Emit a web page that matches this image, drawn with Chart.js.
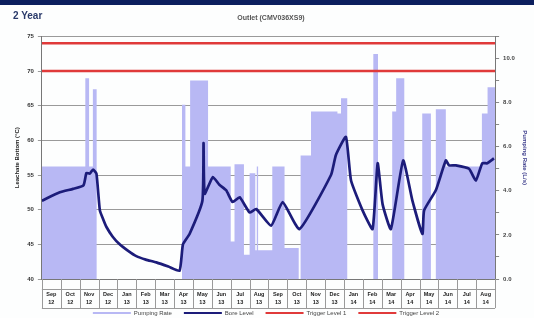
<!DOCTYPE html>
<html><head><meta charset="utf-8">
<script src="https://cdn.jsdelivr.net/npm/chart.js@4.4.0/dist/chart.umd.min.js"></script>
<style>
html,body{margin:0;padding:0;background:#fff;}
#wrap{position:relative;width:534px;height:318px;overflow:hidden;background:#fdfefe;}
#band{position:absolute;left:0;top:0;width:534px;height:5px;background:#0c1f5e;}
#tag{position:absolute;left:13px;top:10px;font:bold 10px "Liberation Sans",Arial,sans-serif;color:#2a3a6a;}
canvas{position:absolute;left:0;top:0;}
</style></head><body>
<div id="wrap"><canvas id="c" width="534" height="318"></canvas><div id="band"></div><div id="tag">2 Year</div></div>
<script>
const monthLabels = ['Sep','Oct','Nov','Dec','Jan','Feb','Mar','Apr','May','Jun','Jul','Aug','Sep','Oct','Nov','Dec','Jan','Feb','Mar','Apr','May','Jun','Jul','Aug'];
const yearLabels = ['12','12','12','12','13','13','13','13','13','13','13','13','13','13','13','13','14','14','14','14','14','14','14','14'];

const boreMonths = [0,0.95,1.65,2.2,2.36,2.54,2.71,2.89,3.07,3.25,3.42,3.75,4.12,4.55,5.0,5.5,6.06,6.7,7.29,7.47,7.82,8.5,8.56,8.62,9.05,9.4,9.76,10.1,10.47,11.0,11.35,12.14,12.75,13.64,15.31,15.57,16.1,16.37,16.98,17.51,17.78,18.04,18.48,19.13,19.62,20.15,20.24,20.86,21.39,21.56,21.92,22.62,22.98,23.32,23.59,23.94];
const boreLevels = [51.3,52.5,53.0,53.5,55.3,55.2,55.8,55.2,49.9,48.6,47.5,46.1,45.0,44.1,43.3,42.8,42.4,41.8,41.2,45.0,46.5,51.3,59.6,52.3,54.7,53.6,52.8,51.1,51.8,49.6,50.1,47.7,51.1,47.2,55.0,57.9,60.5,54.2,49.9,47.2,56.7,50.8,47.2,57.1,51.3,46.5,49.9,52.8,57.1,56.4,56.4,55.9,54.2,56.7,56.7,57.4];

const rateMonths = [0,2.3,2.5,2.7,2.9,7.42,7.6,7.85,8.8,10.0,10.2,10.7,11.0,11.3,11.38,11.45,12.2,12.85,13.6,13.7,14.25,15.65,15.84,16.17,17.55,17.8,18.55,18.76,19.19,20.14,20.6,20.86,21.39,23.3,23.6,24];
const rateValues = [5.1,9.1,5.1,8.6,0,7.9,5.1,9.0,5.1,1.7,5.2,1.1,4.8,1.3,5.1,1.3,5.1,1.4,0,5.6,7.6,7.5,8.2,0,10.2,0,7.6,9.1,0,7.5,0,7.7,5.1,7.5,8.7,8.7];

const trigger1 = 74;
const trigger2 = 70;
const xRange = [0, 24];

const seriesNames = ['Pumping Rate','Bore Level','Trigger Level 1','Trigger Level 2'];
const seriesColors = ['#b8b8f4','#1c1c7a','#e03a3a','#e03a3a'];

const pts = (xs, ys) => xs.map((x, i) => ({x, y: ys[i]}));

const tableLines = {
  id: 'tableLines',
  afterDraw(chart) {
    const xs = chart.scales.x, ctx = chart.ctx;
    const top = xs.top, bot = xs.top + 29;
    ctx.save();
    ctx.strokeStyle = '#9a9a9a';
    ctx.lineWidth = 1;
    for (let i = 0; i <= 24; i++) {
      const px = Math.round(xs.getPixelForValue(i)) + 0.5;
      ctx.beginPath(); ctx.moveTo(px, top); ctx.lineTo(px, bot); ctx.stroke();
    }
    [top + 10.5, bot + 0.5].forEach(y => {
      ctx.beginPath(); ctx.moveTo(xs.left, y); ctx.lineTo(xs.right, y); ctx.stroke();
    });
    ctx.restore();
  }
};

new Chart(document.getElementById('c'), {
  type: 'line',
  data: {
    datasets: [
      {label: seriesNames[0], data: pts(rateMonths, rateValues), yAxisID: 'y1', stepped: true,
       fill: 'origin', backgroundColor: seriesColors[0], borderColor: seriesColors[0], borderWidth: 0, pointRadius: 0, order: 3},
      {label: seriesNames[1], data: pts(boreMonths, boreLevels), yAxisID: 'y', borderColor: seriesColors[1],
       borderWidth: 2.7, pointRadius: 0, tension: 0.15, fill: false, order: 0},
      {label: seriesNames[2], data: pts(xRange, [trigger1, trigger1]), yAxisID: 'y', borderColor: seriesColors[2],
       borderWidth: 2.5, pointRadius: 0, fill: false, order: 1},
      {label: seriesNames[3], data: pts(xRange, [trigger2, trigger2]), yAxisID: 'y', borderColor: seriesColors[3],
       borderWidth: 2.5, pointRadius: 0, fill: false, order: 1}
    ]
  },
  options: {
    responsive: false, animation: false, devicePixelRatio: 1,
    layout: {padding: {left: 12, right: 4, top: 6, bottom: -8}},
    plugins: {
      title: {display: true, text: 'Outlet (CMV036XS9)', color: '#555',
        font: {family: 'Liberation Sans', size: 7, weight: 'bold'}, padding: {top: 8, bottom: 14}},
      legend: {position: 'bottom',
        labels: {font: {family: 'Liberation Sans', size: 6}, color: '#444', boxWidth: 38, boxHeight: 2, padding: 2,
          sort: (a, b) => a.datasetIndex - b.datasetIndex,
          generateLabels(chart) {
            const items = Chart.defaults.plugins.legend.labels.generateLabels(chart);
            items.forEach(it => { const c = seriesColors[it.datasetIndex]; it.fillStyle = c; it.strokeStyle = c; it.lineWidth = 0; it.text = it.text + '      '; });
            return items;
          }}},
      tooltip: {enabled: false}
    },
    scales: {
      x: {type: 'linear', min: 0, max: 24, position: 'bottom',
        afterBuildTicks: s => { s.ticks = Array.from({length: 24}, (_, i) => ({value: i + 0.5})); },
        afterFit: s => { s.height = 29; },
        ticks: {autoSkip: false, maxRotation: 0, padding: 11,
          font: {family: 'Liberation Sans', size: 5.5, weight: 'bold', lineHeight: 1.5}, color: '#222',
          callback: (v, i) => [monthLabels[i], yearLabels[i]]},
        grid: {drawOnChartArea: false, drawTicks: false},
        border: {color: '#777'}},
      y: {position: 'left', min: 40, max: 75,
        ticks: {stepSize: 5, font: {family: 'Liberation Sans', size: 6, weight: 'bold'}, color: '#333', padding: 4},
        grid: {color: '#9a9a9a', tickLength: 4},
        border: {color: '#777'},
        title: {display: true, text: 'Leachate Bottom (°C)', font: {family: 'Liberation Sans', size: 6, weight: 'bold'}, color: '#222', padding: 2}},
      y1: {position: 'right', min: 0, max: 11,
        ticks: {stepSize: 1, font: {family: 'Liberation Sans', size: 6, weight: 'bold'}, color: '#444', padding: 4,
          callback: v => (v % 2 === 0 ? v.toFixed(1) : '')},
        grid: {drawOnChartArea: false, tickLength: 4, color: '#888'},
        border: {color: '#777'},
        title: {display: true, text: 'Pumping Rate (L/s)', font: {family: 'Liberation Sans', size: 6, weight: 'bold'}, color: '#3a3a8a', padding: 2}}
    }
  },
  plugins: [tableLines]
});
</script>
</body></html>
